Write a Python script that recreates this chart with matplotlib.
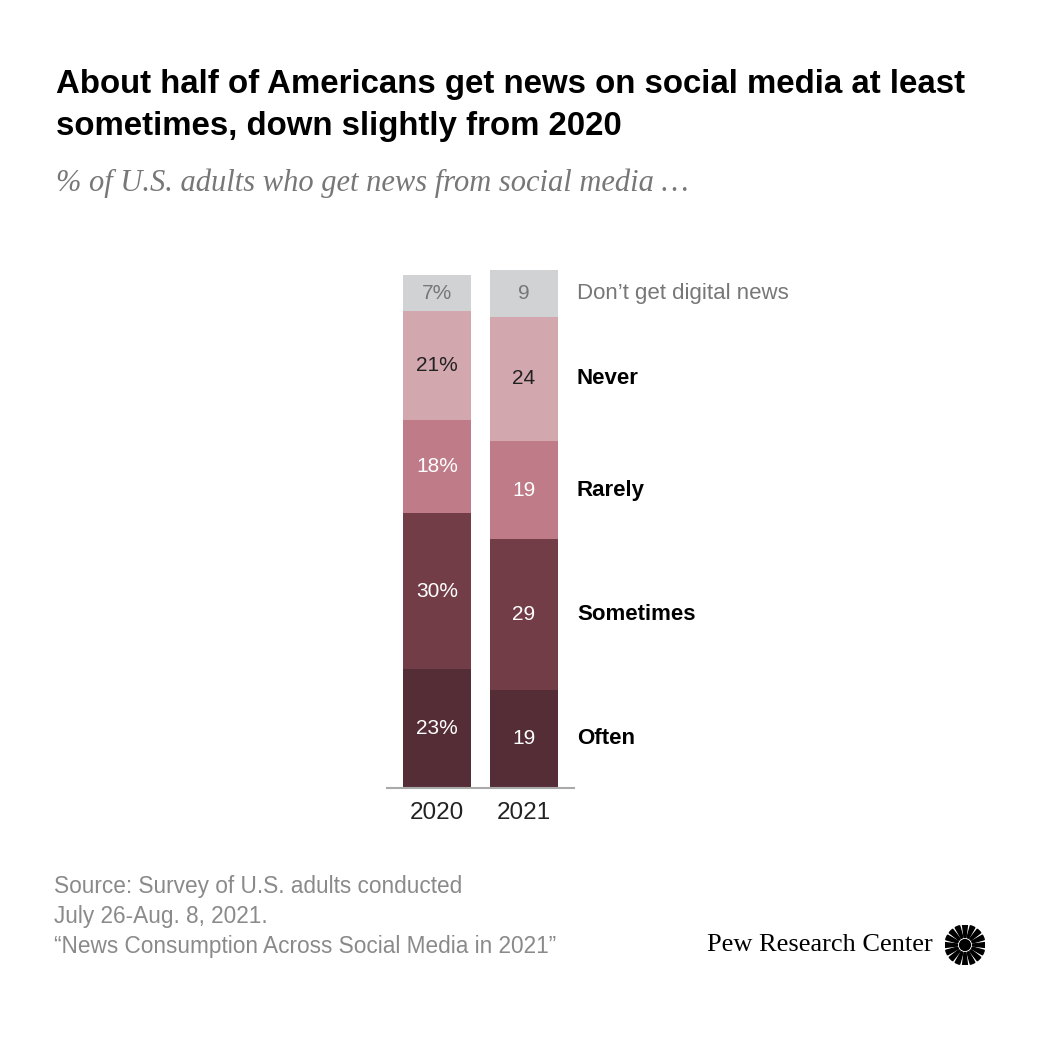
import matplotlib
matplotlib.use('Agg')
import matplotlib.pyplot as plt
from matplotlib.patches import Wedge, Circle
import numpy as np

years = ['2020', '2021']
categories = ['Often', 'Sometimes', 'Rarely', 'Never', 'Don\u2019t get digital news']
often = [23, 19]
sometimes = [30, 29]
rarely = [18, 19]
never = [21, 24]
no_digital = [7, 9]
labels_2020 = ['23%', '30%', '18%', '21%', '7%']
labels_2021 = ['19', '29', '19', '24', '9']

colors = ['#552d36', '#733d48', '#c07b88', '#d3a7ae', '#d1d2d4']
text_colors = ['white', 'white', 'white', '#222222', '#777777']
cat_weights = ['bold', 'bold', 'bold', 'bold', 'normal']
cat_colors = ['black', 'black', 'black', 'black', '#777777']

sans = ['Liberation Sans', 'DejaVu Sans']
serif = ['Liberation Serif', 'DejaVu Serif']

W = 1041
fig = plt.figure(figsize=(W / 100, W / 100), dpi=100)

# axes box in figure fractions in pixels
ax = fig.add_axes([387 / W, 1 - 788 / W, 187 / W, 518 / W])
ax.set_xlim(-0.575, 1.575)
ax.set_ylim(0, 100)

series = [often, sometimes, rarely, never, no_digital]
bar_labels = [labels_2020, labels_2021]
x = np.arange(len(years))
bottom = np.zeros(len(years))
for i, vals in enumerate(series):
    ax.bar(x, vals, width=0.782, bottom=bottom, color=colors[i], edgecolor='none')
    for j in range(len(years)):
        ax.text(x[j], bottom[j] + vals[j] / 2, bar_labels[j][i],
                ha='center', va='center', fontsize=15, color=text_colors[i], family=sans)
    # category label next to 2021 bar
    ax.text(1.609, bottom[1] + vals[1] / 2, categories[i], ha='left', va='center',
            fontsize=16, fontweight=cat_weights[i], color=cat_colors[i], family=sans,
            clip_on=False)
    bottom += np.array(vals)

for s in ['top', 'right', 'left']:
    ax.spines[s].set_visible(False)
ax.spines['bottom'].set_color('#aaaaaa')
ax.spines['bottom'].set_linewidth(1.5)
ax.set_yticks([])
ax.set_xticks(x)
ax.set_xticklabels(years, fontsize=17.5, family=sans, color='#222222')
ax.tick_params(axis='x', length=0, pad=10)

fig.text(56 / W, 1 - 84 / W, 'About half of Americans get news on social media at least',
         fontsize=23.8, fontweight='bold', family=sans, va='center', ha='left')
fig.text(56 / W, 1 - 127 / W, 'sometimes, down slightly from 2020',
         fontsize=23.8, fontweight='bold', family=sans, va='center', ha='left')
fig.text(56 / W, 1 - 183 / W, '% of U.S. adults who get news from social media \u2026',
         fontsize=22, style='italic', family=serif, color='#777777', va='center', ha='left')

src = ['Source: Survey of U.S. adults conducted', 'July 26-Aug. 8, 2021.',
       '\u201cNews Consumption Across Social Media in 2021\u201d']
for k, line in enumerate(src):
    fig.text(54 / W, 1 - (886 + k * 30) / W, line, fontsize=16.3, family=sans,
             color='#8a8a8a', va='center', ha='left')

fig.text(707 / W, 1 - 945 / W, 'Pew Research Center', fontsize=19, family=serif,
         color='black', va='center', ha='left')

# sunburst logo
lax = fig.add_axes([945 / W, 1 - 965 / W, 40 / W, 40 / W])
lax.set_xlim(-1, 1)
lax.set_ylim(-1, 1)
lax.set_aspect('equal')
lax.axis('off')
n = 16
for k in range(n):
    a = k * 360 / n
    lax.add_patch(Wedge((0, 0), 1.0, a - 7, a + 7, width=0.62, color='black'))
lax.add_patch(Circle((0, 0), 0.27, color='black'))

fig.savefig('out.png', dpi=100, facecolor='white')
